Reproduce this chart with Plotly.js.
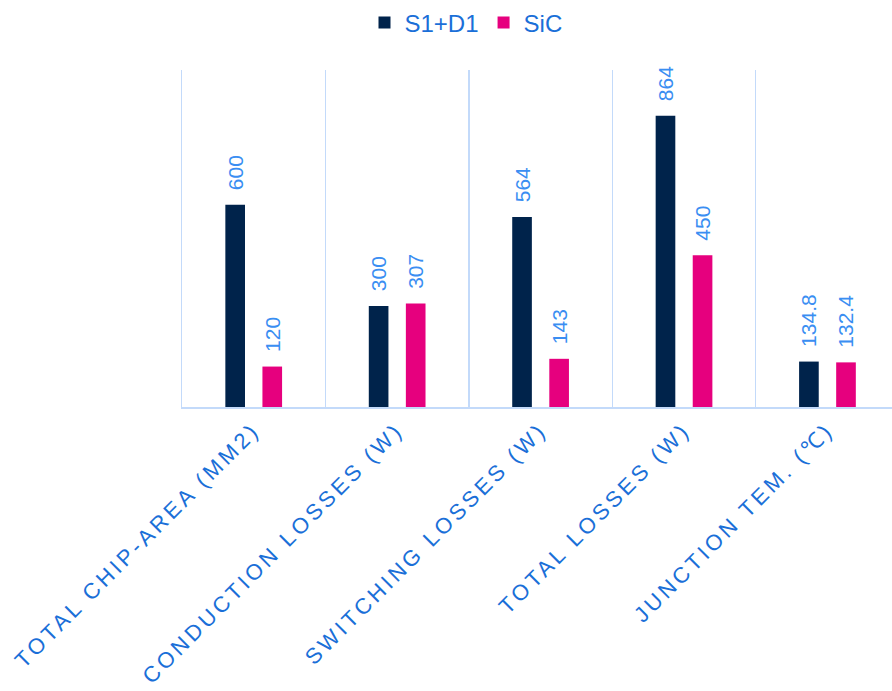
<!DOCTYPE html>
<html>
<head>
<meta charset="utf-8">
<script src="https://cdn.plot.ly/plotly-3.0.1.min.js"></script>
<style>
html, body { margin: 0; padding: 0; background: #fff; }
#chart { width: 892px; height: 691px; }
.xtick text { letter-spacing: 3.5px; }
</style>
</head>
<body>
<div id="chart"></div>
<script>
var categories = ["TOTAL CHIP-AREA (MM2)", "CONDUCTION LOSSES (W)", "SWITCHING LOSSES (W)", "TOTAL LOSSES (W)", "JUNCTION TEM. (℃)"];
var s1d1Values = [600, 300, 564, 864, 134.8];
var sicValues = [120, 307, 143, 450, 132.4];
var seriesNames = ["S1+D1", "SiC"];

var fontFam = "Liberation Sans, Arial, sans-serif";
var labelBlue = "#3a8ef2";
var axisBlue = "#1a6fd8";
var gridBlue = "#c3dafa";

function barTrace(name, vals, color) {
  return {
    type: "bar",
    name: name,
    x: categories,
    y: vals,
    marker: { color: color },
    text: vals.map(String),
    texttemplate: "\u00a0\u00a0%{text}",
    textposition: "outside",
    textangle: -90,
    constraintext: "none",
    cliponaxis: false,
    textfont: { family: fontFam, size: 21, color: labelBlue },
    hoverinfo: "x+y"
  };
}

var data = [
  barTrace(seriesNames[0], s1d1Values, "#00234b"),
  barTrace(seriesNames[1], sicValues, "#e6007e")
];

var layout = {
  width: 892,
  height: 691,
  margin: { l: 182, r: 0, t: 67, b: 284 },
  paper_bgcolor: "#ffffff",
  plot_bgcolor: "#ffffff",
  barmode: "group",
  bargap: 0.483,
  bargroupgap: 0.47,
  showlegend: true,
  legend: {
    orientation: "h",
    x: 0.40,
    xanchor: "center",
    y: 1.14,
    yanchor: "middle",
    itemgap: 6,
    font: { family: fontFam, size: 24, color: axisBlue },
    itemclick: false
  },
  xaxis: {
    type: "category",
    range: [-0.5, 4.45],
    tickson: "boundaries",
    showgrid: true,
    gridcolor: gridBlue,
    gridwidth: 1.5,
    showline: true,
    linecolor: gridBlue,
    linewidth: 1.5,
    ticks: "",
    tickangle: -45,
    tickfont: { family: fontFam, size: 22, color: axisBlue },
    zeroline: false
  },
  yaxis: {
    range: [0, 1000],
    showgrid: false,
    showticklabels: false,
    ticks: "",
    zeroline: false,
    showline: true,
    linecolor: gridBlue,
    linewidth: 1.5
  }
};

Plotly.newPlot("chart", data, layout, { displayModeBar: false, staticPlot: true });
</script>
</body>
</html>
